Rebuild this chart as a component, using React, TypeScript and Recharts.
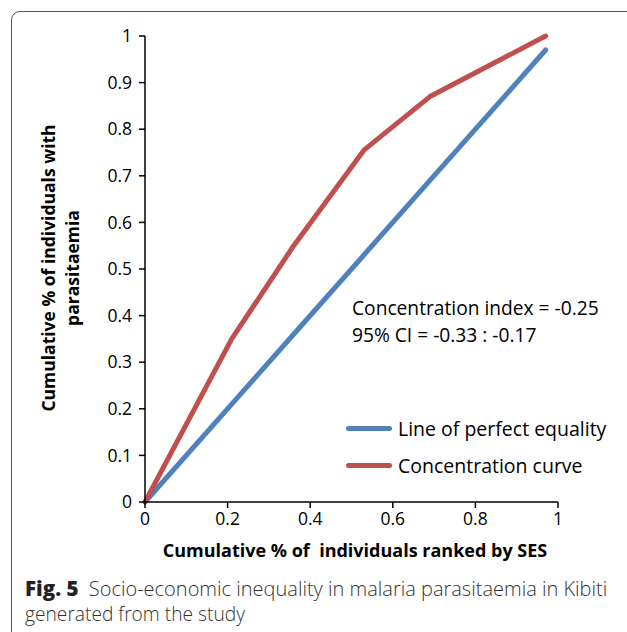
import { LineChart, Line, XAxis, YAxis, Legend } from "recharts"

// cumulative share of individuals ranked by SES
const rankShare = [0, 0.21, 0.36, 0.53, 0.69, 0.97]
// cumulative share of individuals with parasitaemia
const concentration = [0, 0.35, 0.55, 0.755, 0.87, 1.0]
// line of perfect equality
const equality = [0, 0.21, 0.36, 0.53, 0.69, 0.97]

const yTicks = [0, 0.1, 0.2, 0.3, 0.4, 0.5, 0.6, 0.7, 0.8, 0.9, 1]
const xTicks = [0, 0.2, 0.4, 0.6, 0.8, 1]

const BLUE = "#4f81bd"
const RED = "#c0504d"
const FONT = "'Open Sans', sans-serif"

const data = rankShare.map((x, i) => ({
  x,
  equality: equality[i],
  concentration: concentration[i],
}))

const legendItems = [
  { label: "Line of perfect equality", color: BLUE },
  { label: "Concentration curve", color: RED },
]

function LegendBox() {
  return (
    <div style={{ fontFamily: FONT, fontSize: 19.5, color: "#000", whiteSpace: "nowrap" }}>
      {legendItems.map((it) => (
        <div key={it.label} style={{ display: "flex", alignItems: "center", height: 37 }}>
          <div style={{ width: 46, height: 5, borderRadius: 3, background: it.color, marginRight: 6 }} />
          <span>{it.label}</span>
        </div>
      ))}
    </div>
  )
}

export default function App() {
  return (
    <div
      style={{
        position: "fixed",
        left: 0,
        top: 0,
        width: 627,
        height: 632,
        overflow: "hidden",
        background: "#fff",
        fontFamily: FONT,
      }}
    >
      {/* figure frame */}
      <div
        style={{
          position: "absolute",
          left: 11,
          top: 11,
          width: 700,
          height: 700,
          border: "1px solid #555",
          borderRadius: 9,
        }}
      />
      <div style={{ position: "absolute", left: 0, top: 0 }}>
        <LineChart width={627} height={632} data={data} margin={{ top: 36, right: 69, bottom: 100, left: 0 }}>
          <XAxis
            dataKey="x"
            type="number"
            domain={[0, 1]}
            ticks={xTicks}
            height={30}
            tickSize={6}
            tickMargin={5}
            axisLine={{ stroke: "#000", strokeWidth: 1.5 }}
            tickLine={{ stroke: "#000", strokeWidth: 1.5 }}
            tick={{ fill: "#000", fontSize: 17.5, fontFamily: FONT }}
            tickFormatter={(v: number) => String(v)}
          />
          <YAxis
            type="number"
            domain={[0, 1]}
            ticks={yTicks}
            width={145}
            tickSize={6}
            tickMargin={7}
            axisLine={{ stroke: "#000", strokeWidth: 1.5 }}
            tickLine={{ stroke: "#000", strokeWidth: 1.5 }}
            tick={{ fill: "#000", fontSize: 17.5, fontFamily: FONT }}
            tickFormatter={(v: number) => String(v)}
          />
          <Legend
            layout="vertical"
            verticalAlign="middle"
            align="center"
            content={() => <LegendBox />}
            wrapperStyle={{ left: 346, top: 410, width: 280 }}
          />
          <Line
            dataKey="equality"
            stroke={BLUE}
            strokeWidth={5}
            strokeLinecap="round"
            dot={false}
            isAnimationActive={false}
          />
          <Line
            dataKey="concentration"
            stroke={RED}
            strokeWidth={5}
            strokeLinecap="round"
            strokeLinejoin="round"
            dot={false}
            isAnimationActive={false}
          />
        </LineChart>
      </div>

      {/* concentration index annotation */}
      <div
        style={{
          position: "absolute",
          left: 352,
          top: 294,
          fontSize: 19.2,
          lineHeight: "27px",
          color: "#000",
          whiteSpace: "nowrap",
        }}
      >
        <div>Concentration index = -0.25</div>
        <div>95% CI = -0.33 : -0.17</div>
      </div>

      {/* y axis title */}
      <div
        style={{
          position: "absolute",
          left: 60,
          top: 268,
          width: 360,
          transform: "translate(-50%, -50%) rotate(-90deg)",
          textAlign: "center",
          fontWeight: 700,
          fontSize: 17.5,
          lineHeight: "24px",
          color: "#000",
        }}
      >
        Cumulative % of individuals with
        <br />
        parasitaemia
      </div>

      {/* x axis title */}
      <div
        style={{
          position: "absolute",
          left: 0,
          top: 538,
          width: 710,
          textAlign: "center",
          fontWeight: 700,
          fontSize: 18,
          color: "#000",
          whiteSpace: "pre",
        }}
      >
        {"Cumulative % of  individuals ranked by SES"}
      </div>

      {/* caption */}
      <div
        style={{
          position: "absolute",
          left: 25,
          top: 576,
          width: 600,
          color: "#333",
          fontFamily: "'Open Sans', sans-serif",
          fontWeight: 300,
          whiteSpace: "nowrap",
        }}
      >
        <div style={{ height: 25, lineHeight: "25px", fontSize: 20 }}>
          <span style={{ fontWeight: 800, color: "#222", fontSize: 20.5 }}>Fig. 5</span>
          {"\u00a0\u00a0Socio-economic inequality in malaria parasitaemia in Kibiti"}
        </div>
        <div style={{ height: 25, lineHeight: "25px", fontSize: 19.2 }}>generated from the study</div>
      </div>
    </div>
  )
}
